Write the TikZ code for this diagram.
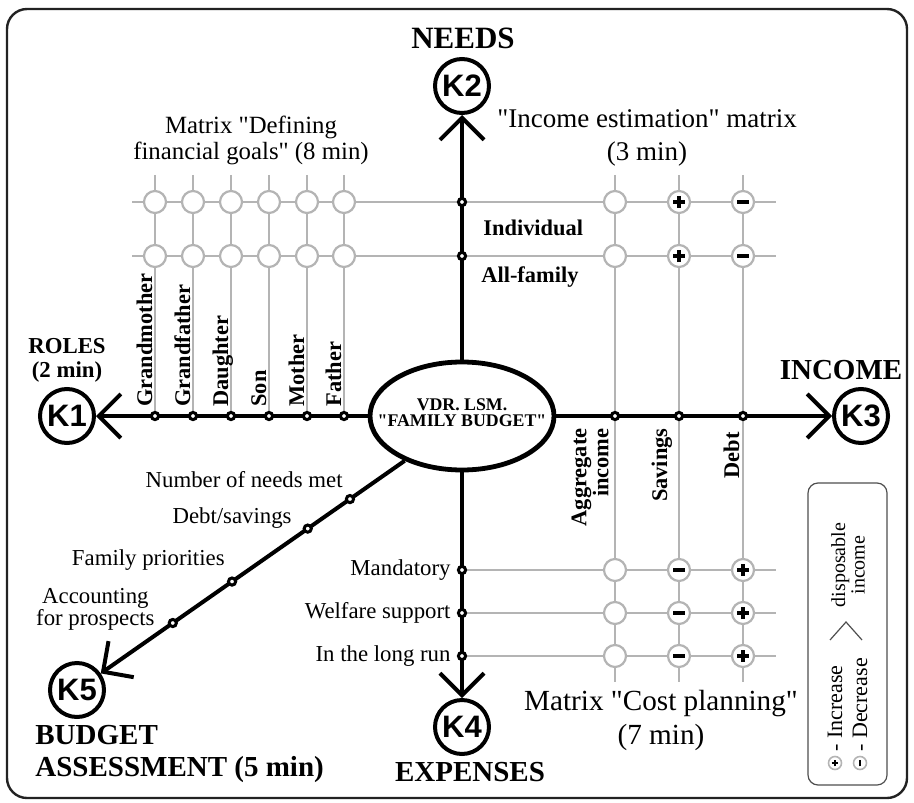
\documentclass[tikz,border=0pt]{standalone}
\usepackage{fontspec}
\setmainfont{Liberation Serif}
\newfontfamily\ksans{Liberation Sans}
\usetikzlibrary{arrows.meta,positioning,shapes.geometric,backgrounds,calc}
\definecolor{gline}{HTML}{B4B4B4}
\definecolor{frm}{HTML}{222222}
\newcommand\qt{\textquotedbl}

\tikzset{
  spine/.style={line width=2pt},
  kto/.style={-{Straight Barb[length=11pt,width=22pt]}},
  kc/.style={circle, draw, line width=2pt, minimum size=27pt, inner sep=0pt, font=\ksans\bfseries\fontsize{15.5}{16}\selectfont},
  knot/.style={circle, draw, fill=white, line width=1.5pt, minimum size=3.6pt, inner sep=0pt},
  gl/.style={gline, line width=1pt},
  gc/.style={circle, draw=gline, fill=white, line width=1.1pt, minimum size=11pt, inner sep=0pt},
  pl/.style={gc, path picture={\draw[black, line width=1.6pt] ([xshift=-3pt]path picture bounding box.center) -- ([xshift=3pt]path picture bounding box.center) ([yshift=-3pt]path picture bounding box.center) -- ([yshift=3pt]path picture bounding box.center);}},
  mi/.style={gc, path picture={\draw[black, line width=1.6pt] ([xshift=-3pt]path picture bounding box.center) -- ([xshift=3pt]path picture bounding box.center);}},
  lgc/.style={circle, draw=gline, fill=white, line width=0.8pt, minimum size=6.5pt, inner sep=0pt},
  lpl/.style={lgc, path picture={\draw[black, line width=1pt] ([xshift=-1.7pt]path picture bounding box.center) -- ([xshift=1.7pt]path picture bounding box.center) ([yshift=-1.7pt]path picture bounding box.center) -- ([yshift=1.7pt]path picture bounding box.center);}},
  lmi/.style={lgc, path picture={\draw[black, line width=1pt] ([yshift=-1.7pt]path picture bounding box.center) -- ([yshift=1.7pt]path picture bounding box.center);}},
  headl/.style={font=\bfseries\fontsize{14.5}{16}\selectfont, inner sep=0pt},
  blab/.style={font=\bfseries\fontsize{11.2}{11}\selectfont, inner sep=0pt},
  rlab/.style={blab, rotate=90},
  nlab/.style={font=\fontsize{11.4}{11}\selectfont, inner sep=0pt},
  elab/.style={font=\fontsize{11.4}{11}\selectfont, inner sep=0pt},
  mtitle/.style={font=\fontsize{13.5}{16.5}\selectfont, align=center, inner sep=0pt},
  ltxt/.style={font=\fontsize{11}{12.5}\selectfont, rotate=90, inner sep=0pt},
}

\begin{document}
\begin{tikzpicture}[x=0.5pt, y=-0.5pt]
	\useasboundingbox (0,0) rectangle (914,802);
	\draw[frm, line width=1.2pt, rounded corners=10pt] (7,9) rectangle (907,798);

	% centre and the five goals
	\node[ellipse, draw, line width=2.4pt, minimum width=92pt, minimum height=54pt, inner sep=0pt] (fb) at (462,416) {};
	\node[font=\bfseries\fontsize{8.9}{8}\selectfont, align=center, inner sep=0pt] (fbt) at (462,413) {VDR. LSM.\\\qt FAMILY BUDGET\qt};
	\node[kc] (K1) at (67,416) {K1};
	\node[kc] (K2) at (462,86) {K2};
	\node[kc] (K3) at (861,416) {K3};
	\node[kc] (K4) at (462,727) {K4};
	\node[kc] (K5) at (77,690) {K5};
	\node[headl, font=\bfseries\fontsize{15.5}{16}\selectfont] (needs) at (463,38) {NEEDS};
	\node[headl] (income) at (841,370) {INCOME};
	\node[headl] (expenses) at (470,772) {EXPENSES};
	\node[headl, align=left, anchor=west] (assess) at (35,754) {BUDGET\\ASSESSMENT (5 min)};
	\node[font=\bfseries\fontsize{11.4}{12}\selectfont, align=center, inner sep=0pt] (roles) at (67,360) {ROLES\\(2 min)};

	% roles and the goals matrix
	\foreach \x/\lab [count=\i] in {155/Grandmother,193/Grandfather,231/Daughter,269/Son,307/Mother,344/Father} {
		\node[knot] (r\i) at (\x,416) {};
		\node[rlab, anchor=base west] (rl\i) at ($(r\i)+(-3,-9)$) {\lab};
		\coordinate (rt\i) at (\x,175);
		\node[gc] (ra\i) at (\x,202) {};
		\node[gc] (rb\i) at (\x,256) {};
	}
	\node[font=\fontsize{12.4}{13}\selectfont, align=center, inner sep=0pt] (mt1) at (251,140) {Matrix \qt Defining\\financial goals\qt{} (8 min)};

	% needs
	\node[knot] (n1) at (462,202) {};
	\node[knot] (n2) at (462,256) {};
	\node[blab, anchor=west] (ind) at (483,228) {Individual};
	\node[blab, anchor=west] (allf) at (481,277) {All-family};
	\coordinate (rowa) at (132,202); \coordinate (rowae) at (776,202);
	\coordinate (rowb) at (132,256); \coordinate (rowbe) at (776,256);

	% income and the two right matrices
	\foreach \x [count=\i] in {615,679,743} {
		\node[knot] (i\i) at (\x,416) {};
		\coordinate (itop\i) at (\x,175);
		\coordinate (ibot\i) at (\x,682);
	}
	\node[rlab, anchor=south east, align=right] (il1) at ($(i1)+(-6,12)$) {Aggregate\\income};
	\node[rlab, anchor=base east] (il2) at ($(i2)+(-12,12)$) {Savings};
	\node[rlab, anchor=base east] (il3) at ($(i3)+(-4,16)$) {Debt};
	\node[gc] (ca1) at (615,202) {}; \node[pl] (ca2) at (679,202) {}; \node[mi] (ca3) at (743,202) {};
	\node[gc] (cb1) at (615,256) {}; \node[pl] (cb2) at (679,256) {}; \node[mi] (cb3) at (743,256) {};
	\node[mtitle] (mt2) at (647,138) {\qt Income estimation\qt{} matrix\\(3 min)};

	% expenses
	\foreach \y/\lab [count=\j] in {570/Mandatory,613/Welfare support,656/In the long run} {
		\node[knot] (e\j) at (462,\y) {};
		\node[elab, left=3pt of e\j] (el\j) {\lab};
		\coordinate (ee\j) at (776,\y);
		\node[gc] (x\j a) at (615,\y) {};
		\node[mi] (x\j b) at (679,\y) {};
		\node[pl] (x\j c) at (743,\y) {};
	}
	\node[mtitle, font=\fontsize{14.6}{17}\selectfont] (mt3) at (661,720) {Matrix \qt Cost planning\qt\\(7 min)};

	% assessment labels
	\node[nlab, anchor=east] (dl1) at (343,480) {Number of needs met};
	\node[nlab, anchor=east] (dl2) at (292,518) {Debt/savings};
	\node[nlab, anchor=east] (dl3) at (225,560) {Family priorities};
	\node[nlab, anchor=east, align=center] (dl4) at (155,609) {Accounting\\for prospects};

	% legend
	\node[draw=frm!80, line width=0.6pt, rounded corners=5pt, minimum width=39.5pt, minimum height=151pt, inner sep=0pt] (leg) at (847.5,634) {};
	\node[lpl] (lp) at (835,763) {};
	\node[lmi] (lm) at (860,763) {};
	\node[ltxt, align=left, anchor=west] (lt1) at (847.5,752) {- Increase\\- Decrease};
	\draw[frm!80, line width=0.6pt] (830,640) -- (846,622) -- (862,640);
	\node[ltxt, align=center, font=\fontsize{10}{8.5}\selectfont] (lt2) at (848,565) {disposable\\income};

	\begin{scope}[on background layer]
		\foreach \i in {1,...,6} {\draw[gl] (rt\i) -- (r\i);}
		\foreach \i in {1,2,3} {\draw[gl] (itop\i) -- (ibot\i); \draw[gl] (e\i) -- (ee\i);}
		\draw[gl] (rowa) -- (rowae) (rowb) -- (rowbe);
		\draw[spine, kto] (fb) -- (K1);
		\draw[spine, kto] (fb) -- (K2);
		\draw[spine, kto] (fb) -- (K3);
		\draw[spine, kto] (fb) -- (K4);
		\draw[spine, kto] (fb.218) -- node[knot, pos=0.18] (d1) {} node[knot, pos=0.319] (d2) {} node[knot, pos=0.568] (d3) {} node[knot, pos=0.763] (d4) {} (K5);
	\end{scope}
\end{tikzpicture}
\end{document}
